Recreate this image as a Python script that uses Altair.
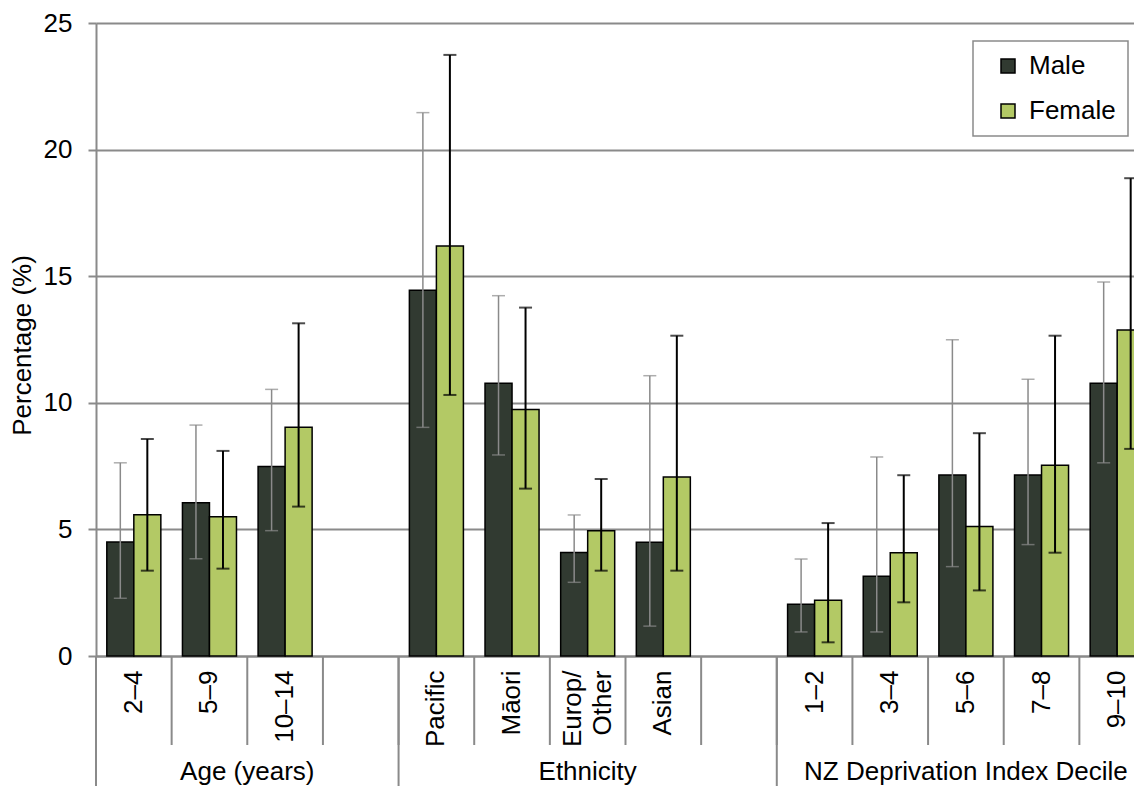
import altair as alt
import pandas as pd

# ---- data -------------------------------------------------------------
slots = ["2–4", "5–9", "10–14", "gap1", "Pacific", "Māori", "Europ/Other",
         "Asian", "gap2", "1–2", "3–4", "5–6", "7–8", "9–10"]
cats = ["2–4", "5–9", "10–14", "Pacific", "Māori", "Europ/Other", "Asian",
        "1–2", "3–4", "5–6", "7–8", "9–10"]

male_val = [4.5, 6.05, 7.48, 14.45, 10.77, 4.09, 4.49, 2.04, 3.15, 7.15, 7.15, 10.77]
male_lo = [2.28, 3.84, 4.95, 9.03, 7.94, 2.91, 1.18, 0.95, 0.95, 3.53, 4.40, 7.63]
male_hi = [7.63, 9.12, 10.53, 21.46, 14.23, 5.57, 11.07, 3.83, 7.86, 12.49, 10.93, 14.77]

female_val = [5.58, 5.50, 9.03, 16.19, 9.74, 4.95, 7.07, 2.20, 4.08, 5.11, 7.53, 12.88]
female_lo = [3.37, 3.45, 5.90, 10.31, 6.61, 3.37, 3.37, 0.54, 2.12, 2.59, 4.08, 8.18]
female_hi = [8.57, 8.10, 13.14, 23.74, 13.76, 6.99, 12.65, 5.25, 7.14, 8.80, 12.65, 18.87]

sexes = ["Male", "Female"]
group_names = ["Age (years)", "Ethnicity", "NZ Deprivation Index Decile"]
group_anchor = ["10–14", "Europ/Other", "5–6"]
separators = ["2–4", "Pacific", "1–2"]

# ---- tables -----------------------------------------------------------
rows = []
for i, c in enumerate(cats):
    rows.append({"cat": c, "sex": "Male", "value": male_val[i], "lo": male_lo[i], "hi": male_hi[i]})
    rows.append({"cat": c, "sex": "Female", "value": female_val[i], "lo": female_lo[i], "hi": female_hi[i]})
df = pd.DataFrame(rows)
slot_df = pd.DataFrame({"cat": slots})
sep_df = pd.DataFrame({"cat": separators})
grp_df = pd.DataFrame({"cat": group_anchor, "label": group_names})

GRAY = "#8a8a8a"
FONT = "Liberation Sans"
FS = 26

x_scale = alt.Scale(domain=slots, paddingInner=0, paddingOuter=0)
off_scale = alt.Scale(domain=sexes, paddingOuter=0.4, paddingInner=0)
y_scale = alt.Scale(domain=[0, 25], nice=False)

x_axis = alt.Axis(
    title=None, ticks=False, labelAngle=270, labelPadding=14,
    labelFontSize=FS, labelColor="black", labelFont=FONT,
    domainColor=GRAY, domainWidth=2, labelLimit=200, labelLineHeight=30,
    labelOffset={"condition": {"test": "datum.value == 'Europ/Other'", "value": -15}, "value": 0},
    labelExpr="datum.value == 'Europ/Other' ? ['Europ/', 'Other'] : "
              "(indexof(datum.value, 'gap') >= 0 ? '' : datum.label)",
)
y_axis = alt.Axis(
    title="Percentage  (%)", values=[0, 5, 10, 15, 20, 25], grid=True,
    gridColor=GRAY, gridWidth=2, domainColor=GRAY, domainWidth=2,
    tickColor=GRAY, tickWidth=2, tickSize=8, labelFontSize=FS,
    labelPadding=16, labelColor="black", titleFontSize=FS,
    titleFontWeight="normal", titleColor="black", titlePadding=8,
    titleY=322,
)

base = alt.Chart(df)

bars = base.mark_bar(stroke="black", strokeWidth=1.5).encode(
    x=alt.X("cat:N", scale=x_scale, axis=x_axis, sort=slots),
    xOffset=alt.XOffset("sex:N", scale=off_scale),
    y=alt.Y("value:Q", scale=y_scale, axis=y_axis),
    fill=alt.Fill("sex:N", scale=alt.Scale(domain=sexes, range=["#313a31", "#b3c965"]),
                  legend=alt.Legend(
                      title=None, orient="none", legendX=877, legendY=18,
                      strokeColor=GRAY, padding=12,
                      symbolType="square", symbolSize=196, symbolStrokeColor="black",
                      symbolStrokeWidth=1.5, symbolOffset=10, labelFontSize=FS,
                      labelFont=FONT, labelColor="black", rowPadding=19, labelOffset=8,
                  )),
)

layers = [bars]
for s, col, w in [("Male", GRAY, 1.5), ("Female", "black", 2)]:
    sub = base.transform_filter(alt.datum.sex == s)
    whisk = sub.mark_rule(color=col, strokeWidth=w).encode(
        x=alt.X("cat:N", scale=x_scale, axis=x_axis),
        xOffset=alt.XOffset("sex:N", scale=off_scale),
        y=alt.Y("lo:Q", scale=y_scale, axis=y_axis),
        y2="hi:Q",
    )
    cap_lo = sub.mark_tick(color=col, thickness=w, size=13, orient="horizontal").encode(
        x=alt.X("cat:N", scale=x_scale, axis=x_axis),
        xOffset=alt.XOffset("sex:N", scale=off_scale),
        y=alt.Y("lo:Q", scale=y_scale, axis=y_axis),
    )
    cap_hi = sub.mark_tick(color=col, thickness=w, size=13, orient="horizontal").encode(
        x=alt.X("cat:N", scale=x_scale, axis=x_axis),
        xOffset=alt.XOffset("sex:N", scale=off_scale),
        y=alt.Y("hi:Q", scale=y_scale, axis=y_axis),
    )
    layers += [whisk, cap_lo, cap_hi]

ticks = alt.Chart(slot_df).mark_rule(color=GRAY, strokeWidth=2).encode(
    x=alt.X("cat:N", scale=x_scale, axis=x_axis, bandPosition=0),
    y=alt.value(633), y2=alt.value(722),
)
seps = alt.Chart(sep_df).mark_rule(color=GRAY, strokeWidth=2).encode(
    x=alt.X("cat:N", scale=x_scale, axis=x_axis, bandPosition=0),
    y=alt.value(633), y2=alt.value(800),
)
age_lbl = alt.Chart(grp_df.iloc[[0]]).mark_text(
    fontSize=FS, font=FONT, color="black", baseline="middle", align="center"
).encode(
    x=alt.X("cat:N", scale=x_scale, axis=x_axis, bandPosition=0),
    y=alt.value(749), text="label:N",
)
other_lbl = alt.Chart(grp_df.iloc[1:]).mark_text(
    fontSize=FS, font=FONT, color="black", baseline="middle", align="center"
).encode(
    x=alt.X("cat:N", scale=x_scale, axis=x_axis),
    y=alt.value(749), text="label:N",
)

layers += [ticks, seps, age_lbl, other_lbl]

chart = alt.layer(*layers).properties(
    width=1059, height=633,
    padding={"left": 88, "top": 15, "right": -21, "bottom": 130},
    autosize=alt.AutoSizeParams(type="none"),
).configure(font=FONT).configure_view(stroke=None).configure_legend(strokeWidth=1.5)

chart.save("out.html", embed_options={"renderer": "svg", "actions": False})
